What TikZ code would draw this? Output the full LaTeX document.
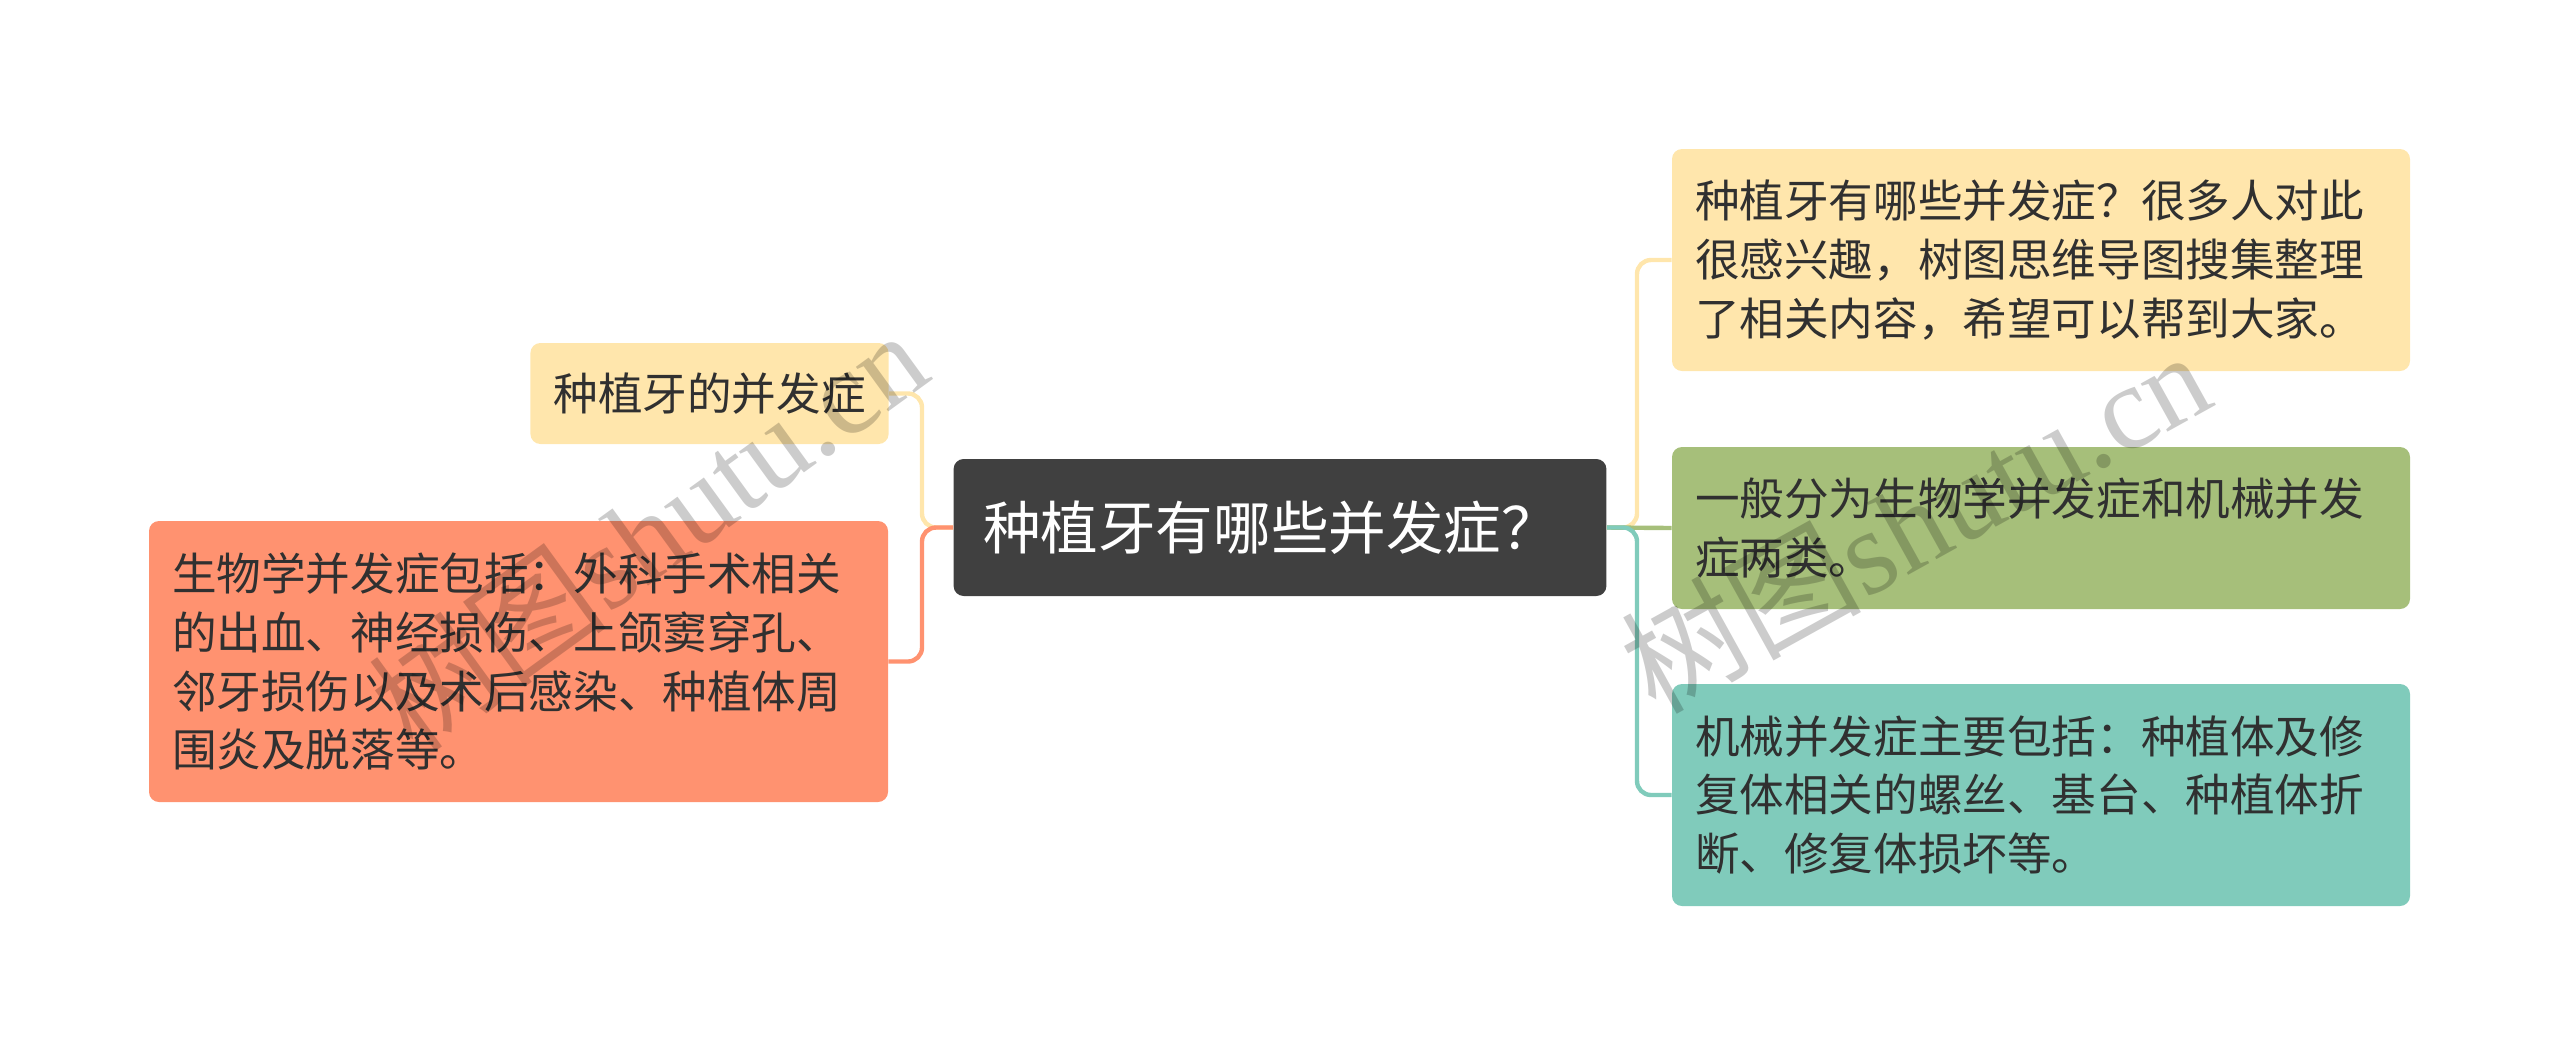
\documentclass[tikz,border=0pt]{standalone}
\usepackage{fontspec}
\newfontfamily\cjk{Noto Sans CJK SC}
\newfontfamily\wmlatin{Liberation Serif}
\definecolor{cYel}{HTML}{FFE6AC}
\definecolor{cGrn}{HTML}{A6BF7A}
\definecolor{cTea}{HTML}{80CBBB}
\definecolor{cSal}{HTML}{FF9270}
\definecolor{cCen}{HTML}{404040}
\definecolor{cTxt}{HTML}{303030}
\tikzset{
  box/.style={rounded corners=5pt, align=left, inner ysep=0pt, inner xsep=11.5pt,
    text=cTxt, font=\cjk\fontsize{22.3pt}{29.4pt}\selectfont},
  cen/.style={rounded corners=5pt, fill=cCen, text=white, inner xsep=14.7pt, inner ysep=0pt,
    text width=297pt, align=left,
    minimum height=68.5pt, font=\cjk\fontsize{28.8pt}{34pt}\selectfont},
  conn/.style={line width=2.2pt, rounded corners=7pt},
  wm/.style={text=black, opacity=0.2, inner sep=0pt}
}
\begin{document}
\begin{tikzpicture}[x=0.5pt,y=-0.5pt]
\useasboundingbox (0,0) rectangle (2560,1057);
% nodes
\node[cen] (c) at (1280,527.5) {种植牙有哪些并发症？};
\node[box, fill=cYel, minimum height=50.5pt] (lt) at (709.5,393.5) {种植牙的并发症};
\node[box, fill=cSal, text width=346.5pt, minimum height=140.5pt] (lb) at (518.5,661.5)
  {生物学并发症包括：外科手术相关\\的出血、神经损伤、上颌窦穿孔、\\邻牙损伤以及术后感染、种植体周\\围炎及脱落等。};
\node[box, fill=cYel, text width=346pt, minimum height=111pt] (r1) at (2041,260)
  {种植牙有哪些并发症？很多人对此\\很感兴趣，树图思维导图搜集整理\\了相关内容，希望可以帮到大家。};
\node[box, fill=cGrn, text width=346pt, minimum height=81pt] (r2) at (2041,528)
  {一般分为生物学并发症和机械并发\\症两类。};
\node[box, fill=cTea, text width=346pt, minimum height=111pt] (r3) at (2041,795)
  {机械并发症主要包括：种植体及修\\复体相关的螺丝、基台、种植体折\\断、修复体损坏等。};
% junctions
\coordinate (jl) at (922,527.5);
\coordinate (jr) at (1637,527.5);
% connectors
\draw[conn, draw=cYel] (c.west) -- (jl) |- (lt.east);
\draw[conn, draw=cSal] (c.west) -- (jl) |- (lb.east);
\draw[conn, draw=cYel] (c.east) -- (jr) |- (r1.west);
\draw[conn, draw=cGrn] (c.east) -- (r2.west);
\draw[conn, draw=cTea] (c.east) -- (jr) |- (r3.west);
% watermarks
\node[wm, rotate=36] (w1) at (648,530) {\fontsize{60pt}{64pt}\selectfont\cjk 树图\wmlatin shutu.cn};
\node[wm, rotate=29] (w2) at (1915,520) {\fontsize{60pt}{64pt}\selectfont\cjk 树图\wmlatin shutu.cn};
\end{tikzpicture}
\end{document}
